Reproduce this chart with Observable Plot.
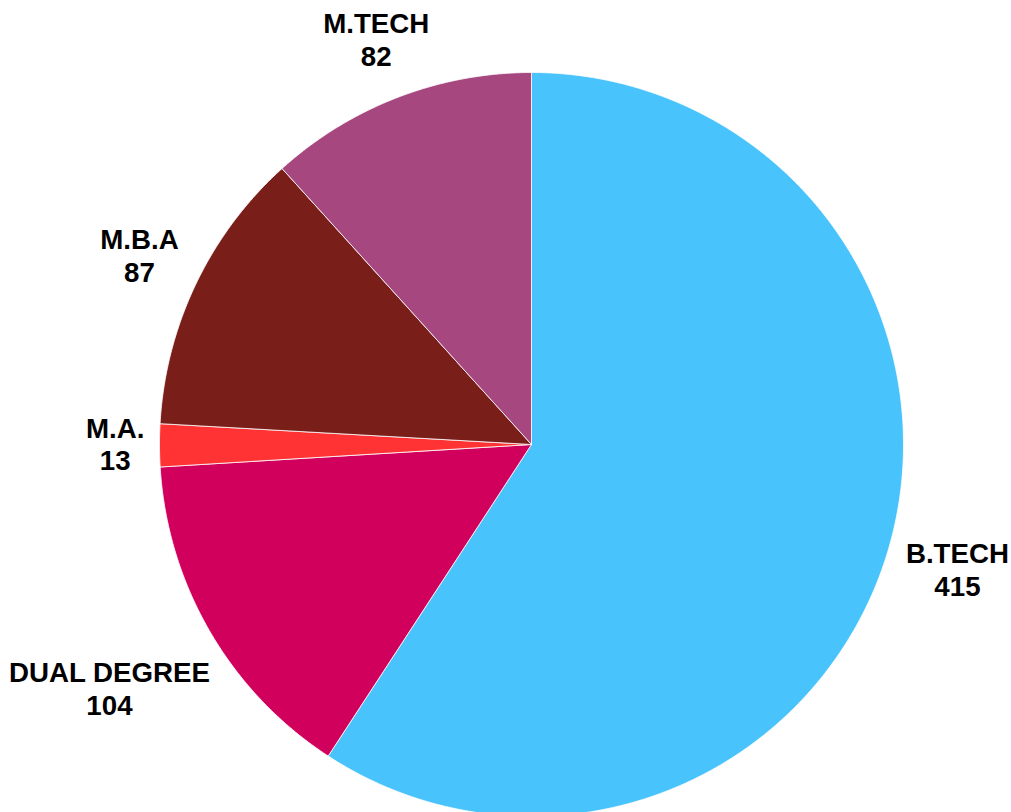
<!DOCTYPE html>
<html>
<head>
<meta charset="utf-8">
<script src="https://cdn.jsdelivr.net/npm/d3@7"></script>
<script src="https://cdn.jsdelivr.net/npm/@observablehq/plot@0.6"></script>
<style>
  html, body { margin: 0; padding: 0; background: #fff; }
  #chart svg { display: block; }
</style>
</head>
<body>
<div id="chart"></div>
<script>
const categories = ["B.TECH", "DUAL DEGREE", "M.A.", "M.B.A", "M.TECH"];
const values = [415, 104, 13, 87, 82];
const colors = ["#49C3FC", "#D0005C", "#FF3333", "#7A1E1A", "#A64780"];

const W = 1011, H = 812;
const cx = 531, cy = 444, R = 372; // pixel layout of the pie
const fontSize = 27.7, font = `bold ${fontSize}px "Liberation Sans", Arial, sans-serif`;

const table = categories.map((c, i) => ({label: c, value: values[i]}));
const arcs = d3.pie().sort(null).value(d => d.value)(table);

// polygon points for each slice in unit coordinates (y up)
const pts = [];
arcs.forEach(a => {
  const lab = a.data.label;
  pts.push({label: lab, x: 0, y: 0});
  const n = Math.max(2, Math.ceil((a.endAngle - a.startAngle) / 0.005));
  for (let k = 0; k <= n; k++) {
    const t = a.startAngle + (a.endAngle - a.startAngle) * k / n;
    pts.push({label: lab, x: Math.sin(t), y: Math.cos(t)});
  }
  pts.push({label: lab, x: 0, y: 0});
});

// label placement: outside end, box touching a ring just beyond the pie
const ctx = document.createElement("canvas").getContext("2d");
ctx.font = font;
const gap = 15, halfH = 28;
const labels = arcs.map(a => {
  const mid = (a.startAngle + a.endAngle) / 2;
  const ux = Math.sin(mid), uy = Math.cos(mid);
  const w = Math.max(ctx.measureText(a.data.label).width, ctx.measureText(String(a.data.value)).width);
  const ext = Math.abs(ux) * w / 2 + Math.abs(uy) * halfH;
  const d = (R + gap + ext) / R;
  return {text: a.data.label + "\n" + a.data.value, x: ux * d, y: uy * d};
});

const plot = Plot.plot({
  width: W,
  height: H,
  margin: 0,
  x: {domain: [-cx / R, (W - cx) / R], axis: null},
  y: {domain: [-(H - cy) / R, cy / R], axis: null},
  color: {domain: categories, range: colors},
  marks: [
    Plot.line(pts, {x: "x", y: "y", z: "label", fill: "label", stroke: "white", strokeWidth: 0.8, curve: "linear"}),
    Plot.text(labels, {x: "x", y: "y", dy: -2, text: "text", fontSize, fontWeight: "bold", fontFamily: '"Liberation Sans", Arial, sans-serif', fill: "#000", lineHeight: 1.19, textAnchor: "middle"})
  ]
});
document.getElementById("chart").appendChild(plot);
</script>
</body>
</html>
